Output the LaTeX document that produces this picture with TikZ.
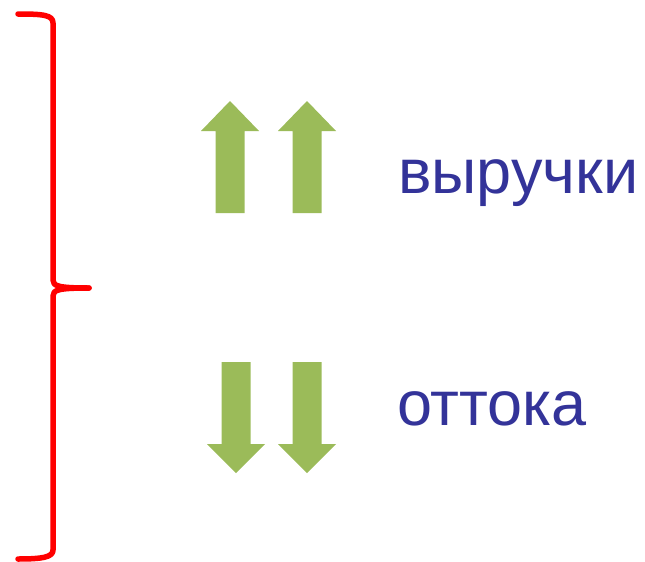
\documentclass[tikz,border=0pt]{standalone}
\usepackage{fontspec}
\setmainfont{Liberation Sans}
\definecolor{olive}{HTML}{9BBB59}
\definecolor{navy}{HTML}{333399}

\begin{document}
\begin{tikzpicture}[x=1pt,y=-1pt,
    arrowfill/.style={fill=olive,draw=none},
    word/.style={navy,font={\fontsize{63}{75}\selectfont},inner sep=0pt,anchor=base west}]

\useasboundingbox (0,0) rectangle (645,562);

% brace
\draw[red,line width=5.5pt,line cap=round,line join=round]
  (18,14) .. controls (43,14) and (53,15) .. (53,23) -- (53,280)
  .. controls (53,286) and (58,288) .. (89,288);
\draw[red,line width=5.5pt,line cap=round,line join=round]
  (89,288) .. controls (58,288) and (53,290) .. (53,296) -- (53,550)
  .. controls (53,557) and (43,559) .. (18,559);

% up arrows
\foreach \cx in {230,307}
  \fill[arrowfill] (\cx,101)--(\cx+29,131)--(\cx+14.5,131)--(\cx+14.5,213)
    --(\cx-14.5,213)--(\cx-14.5,131)--(\cx-29,131)--cycle;

% down arrows
\foreach \cx in {236,307}
  \fill[arrowfill] (\cx,473)--(\cx+29,444)--(\cx+14.5,444)--(\cx+14.5,362)
    --(\cx-14.5,362)--(\cx-14.5,444)--(\cx-29,444)--cycle;

\node[word] (revenue) at (398,193) {выручки};
\node[word] (outflow) at (397,425) {оттока};

\end{tikzpicture}
\end{document}
